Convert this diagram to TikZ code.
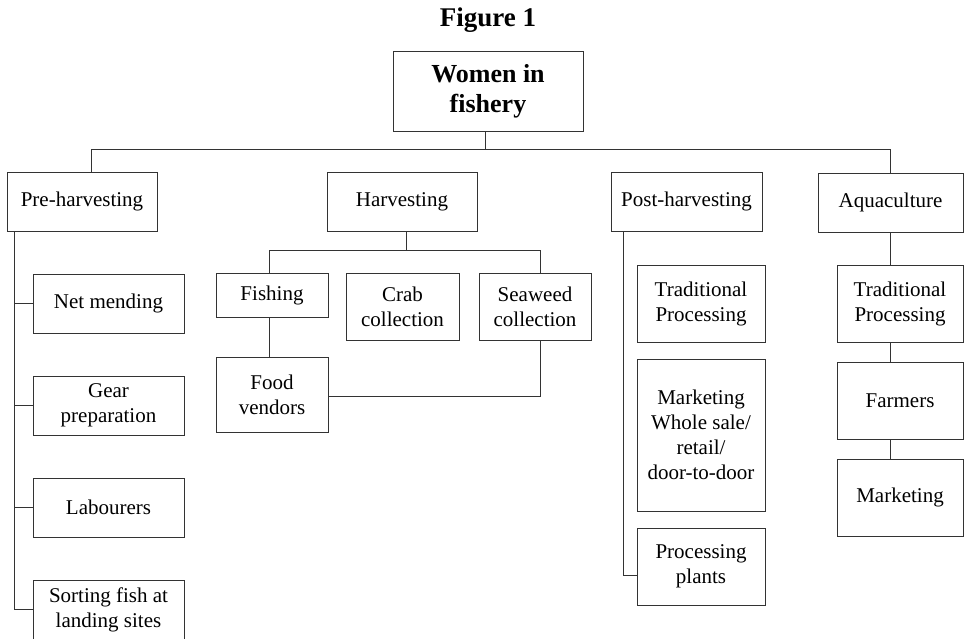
\documentclass[tikz,border=0pt]{standalone}
\usepackage{fontspec}
\setmainfont{Liberation Serif}
\usetikzlibrary{calc}
\begin{document}
\begin{tikzpicture}[x=1pt,y=-1pt,
  box/.style={draw=black!80, line width=1pt, align=center, inner sep=0pt,
    font=\fontsize{21}{25}\selectfont},
  conn/.style={draw=black!80, line width=1pt}]
\useasboundingbox (0,0) rectangle (965,638);
% title
\node[font=\fontsize{27}{30}\selectfont\bfseries] (title) at (488,20) {Figure 1};
% nodes
\node[box, minimum width=190, minimum height=80, font=\fontsize{26}{30}\selectfont\bfseries] (root) at (488,91) {Women in\\fishery};
\node[box, minimum width=150, minimum height=59] (pre) at (82,201.5) {Pre-harvesting};
\node[box, minimum width=150, minimum height=59] (harv) at (402,201.5) {Harvesting};
\node[box, minimum width=151, minimum height=59] (post) at (686.5,201.5) {Post-harvesting};
\node[box, minimum width=145, minimum height=59] (aqua) at (890.5,202.5) {Aquaculture};
\node[box, minimum width=151, minimum height=59] (net) at (108.5,303.5) {Net mending};
\node[box, minimum width=151, minimum height=59] (gear) at (108.5,405.5) {Gear\\preparation};
\node[box, minimum width=151, minimum height=59] (lab) at (108.5,507.5) {Labourers};
\node[box, minimum width=151, minimum height=59] (sort) at (108.5,609.5) {Sorting fish at\\landing sites};
\node[box, minimum width=112, minimum height=44] (fish) at (272,295) {Fishing};
\node[box, minimum width=112, minimum height=75] (food) at (272,394.5) {Food\\vendors};
\node[box, minimum width=113, minimum height=67] (crab) at (402.5,306.5) {Crab\\collection};
\node[box, minimum width=112, minimum height=67] (sea) at (535,306.5) {Seaweed\\collection};
\node[box, minimum width=128, minimum height=77] (tp1) at (701,303.5) {Traditional\\Processing};
\node[box, minimum width=128, minimum height=152] (mkt1) at (701,435) {Marketing\\Whole sale/\\retail/\\door-to-door};
\node[box, minimum width=128, minimum height=77] (pp) at (701,566.5) {Processing\\plants};
\node[box, minimum width=126, minimum height=77] (tp2) at (900,303.5) {Traditional\\Processing};
\node[box, minimum width=126, minimum height=77] (farm) at (900,400.5) {Farmers};
\node[box, minimum width=126, minimum height=77] (mkt2) at (900,497.5) {Marketing};
% helper coordinates
\coordinate (bus) at (0,149);
\coordinate (hbus) at (0,250);
\coordinate (preT) at ($(pre.north)+(9,0)$);
\coordinate (rootB) at ($(root.south)+(-3,0)$);
\coordinate (preB) at ($(pre.south)+(-68,0)$);
\coordinate (harvB) at ($(harv.south)+(4,0)$);
\coordinate (fishT) at ($(fish.north)+(-3,0)$);
\coordinate (fishB) at ($(fish.south)+(-3,0)$);
\coordinate (seaT) at ($(sea.north)+(5,0)$);
\coordinate (seaB) at ($(sea.south)+(5,0)$);
\coordinate (foodE) at ($(food.east)+(0,1.5)$);
\coordinate (postB) at ($(post.south)+(-63.5,0)$);
\coordinate (ppW) at ($(pp.west)+(0,8.5)$);
% top level
\draw[conn] (preT) -- (preT |- bus) -| (aqua.north);
\draw[conn] (rootB) -- (rootB |- bus);
% pre-harvesting
\draw[conn] (preB) |- (sort.west);
\draw[conn] (preB) |- (net.west);
\draw[conn] (preB) |- (gear.west);
\draw[conn] (preB) |- (lab.west);
% harvesting
\draw[conn] (harvB) -- (harvB |- hbus);
\draw[conn] (fishT) -- (fishT |- hbus) -| (seaT);
\draw[conn] (fishB) -- (fishB |- food.north);
\draw[conn] (foodE) -| (seaB);
% post-harvesting
\draw[conn] (postB) |- (ppW);
% aquaculture
\draw[conn] (aqua.south) -- (aqua.south |- tp2.north);
\draw[conn] (aqua.south |- tp2.south) -- (aqua.south |- farm.north);
\draw[conn] (aqua.south |- farm.south) -- (aqua.south |- mkt2.north);
\end{tikzpicture}
\end{document}
